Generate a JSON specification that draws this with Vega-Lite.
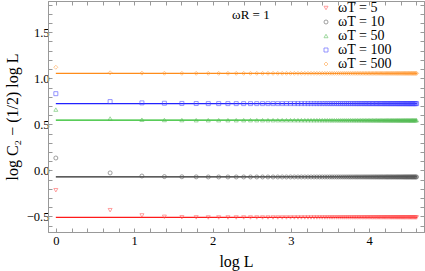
{
  "$schema": "https://vega.github.io/schema/vega-lite/v6.json",
  "autosize": "none",
  "width": 376,
  "height": 231,
  "padding": {"left": 48, "top": 1, "right": 1, "bottom": 39},
  "background": "white",
  "config": {
    "view": {"stroke": "#999999", "strokeWidth": 1},
    "font": "Liberation Serif",
    "axis": {
      "labelFont": "Liberation Serif",
      "titleFont": "Liberation Serif",
      "labelFontSize": 12.5,
      "titleFontSize": 16,
      "titleFontWeight": "normal",
      "labelColor": "#000000",
      "titleColor": "#000000",
      "domainColor": "#999999",
      "tickColor": "#999999",
      "grid": false
    },
    "legend": {
      "orient": "none", "legendX": 271, "legendY": 0,
      "labelFont": "Liberation Serif", "labelFontSize": 14, "labelFontWeight": "normal", "labelColor": "#000000",
      "rowPadding": -3.5, "symbolSize": 16, "symbolStrokeWidth": 0.8, "labelOffset": 5
    }
  },
  "resolve": {"axis": {"x": "independent", "y": "independent"}},
  "datasets": {
    "pts": [
      {"x": 0, "w5": -0.216, "w10": 0.134, "w50": 0.66, "w100": 0.833, "w500": 1.12},
      {"x": 0.693, "w5": -0.433, "w10": -0.028, "w50": 0.563, "w100": 0.747, "w500": 1.06},
      {"x": 1.099, "w5": -0.49, "w10": -0.062, "w50": 0.55, "w100": 0.733, "w500": 1.056},
      {"x": 1.386, "w5": -0.505, "w10": -0.068, "w50": 0.547, "w100": 0.729, "w500": 1.055},
      {"x": 1.609, "w5": -0.51, "w10": -0.07, "w50": 0.546, "w100": 0.727, "w500": 1.054},
      {"x": 1.792, "w5": -0.511, "w10": -0.071, "w50": 0.545, "w100": 0.726, "w500": 1.054},
      {"x": 1.946, "w5": -0.512, "w10": -0.072, "w50": 0.545, "w100": 0.725, "w500": 1.054},
      {"x": 2.079, "w5": -0.512, "w10": -0.072, "w50": 0.545, "w100": 0.725, "w500": 1.054},
      {"x": 2.197, "w5": -0.512, "w10": -0.072, "w50": 0.545, "w100": 0.725, "w500": 1.054},
      {"x": 2.303, "w5": -0.512, "w10": -0.072, "w50": 0.545, "w100": 0.725, "w500": 1.054},
      {"x": 2.398, "w5": -0.512, "w10": -0.072, "w50": 0.545, "w100": 0.725, "w500": 1.054},
      {"x": 2.485, "w5": -0.512, "w10": -0.072, "w50": 0.545, "w100": 0.725, "w500": 1.054},
      {"x": 2.565, "w5": -0.512, "w10": -0.072, "w50": 0.545, "w100": 0.725, "w500": 1.054},
      {"x": 2.639, "w5": -0.512, "w10": -0.072, "w50": 0.545, "w100": 0.725, "w500": 1.054},
      {"x": 2.708, "w5": -0.512, "w10": -0.072, "w50": 0.545, "w100": 0.725, "w500": 1.054},
      {"x": 2.773, "w5": -0.512, "w10": -0.072, "w50": 0.545, "w100": 0.725, "w500": 1.054},
      {"x": 2.833, "w5": -0.512, "w10": -0.072, "w50": 0.545, "w100": 0.725, "w500": 1.054},
      {"x": 2.890, "w5": -0.512, "w10": -0.072, "w50": 0.545, "w100": 0.725, "w500": 1.054},
      {"x": 2.944, "w5": -0.512, "w10": -0.072, "w50": 0.545, "w100": 0.725, "w500": 1.054},
      {"x": 2.996, "w5": -0.512, "w10": -0.072, "w50": 0.545, "w100": 0.725, "w500": 1.054},
      {"x": 3.045, "w5": -0.512, "w10": -0.072, "w50": 0.545, "w100": 0.725, "w500": 1.054},
      {"x": 3.091, "w5": -0.512, "w10": -0.072, "w50": 0.545, "w100": 0.725, "w500": 1.054},
      {"x": 3.135, "w5": -0.512, "w10": -0.072, "w50": 0.545, "w100": 0.725, "w500": 1.054},
      {"x": 3.178, "w5": -0.512, "w10": -0.072, "w50": 0.545, "w100": 0.725, "w500": 1.054},
      {"x": 3.219, "w5": -0.512, "w10": -0.072, "w50": 0.545, "w100": 0.725, "w500": 1.054},
      {"x": 3.258, "w5": -0.512, "w10": -0.072, "w50": 0.545, "w100": 0.725, "w500": 1.054},
      {"x": 3.296, "w5": -0.512, "w10": -0.072, "w50": 0.545, "w100": 0.725, "w500": 1.054},
      {"x": 3.332, "w5": -0.512, "w10": -0.072, "w50": 0.545, "w100": 0.725, "w500": 1.054},
      {"x": 3.367, "w5": -0.512, "w10": -0.072, "w50": 0.545, "w100": 0.725, "w500": 1.054},
      {"x": 3.401, "w5": -0.512, "w10": -0.072, "w50": 0.545, "w100": 0.725, "w500": 1.054},
      {"x": 3.434, "w5": -0.512, "w10": -0.072, "w50": 0.545, "w100": 0.725, "w500": 1.054},
      {"x": 3.466, "w5": -0.512, "w10": -0.072, "w50": 0.545, "w100": 0.725, "w500": 1.054},
      {"x": 3.497, "w5": -0.512, "w10": -0.072, "w50": 0.545, "w100": 0.725, "w500": 1.054},
      {"x": 3.526, "w5": -0.512, "w10": -0.072, "w50": 0.545, "w100": 0.725, "w500": 1.054},
      {"x": 3.555, "w5": -0.512, "w10": -0.072, "w50": 0.545, "w100": 0.725, "w500": 1.054},
      {"x": 3.584, "w5": -0.512, "w10": -0.072, "w50": 0.545, "w100": 0.725, "w500": 1.054},
      {"x": 3.611, "w5": -0.512, "w10": -0.072, "w50": 0.545, "w100": 0.725, "w500": 1.054},
      {"x": 3.638, "w5": -0.512, "w10": -0.072, "w50": 0.545, "w100": 0.725, "w500": 1.054},
      {"x": 3.664, "w5": -0.512, "w10": -0.072, "w50": 0.545, "w100": 0.725, "w500": 1.054},
      {"x": 3.689, "w5": -0.512, "w10": -0.072, "w50": 0.545, "w100": 0.725, "w500": 1.054},
      {"x": 3.714, "w5": -0.512, "w10": -0.072, "w50": 0.545, "w100": 0.725, "w500": 1.054},
      {"x": 3.738, "w5": -0.512, "w10": -0.072, "w50": 0.545, "w100": 0.725, "w500": 1.054},
      {"x": 3.761, "w5": -0.512, "w10": -0.072, "w50": 0.545, "w100": 0.725, "w500": 1.054},
      {"x": 3.784, "w5": -0.512, "w10": -0.072, "w50": 0.545, "w100": 0.725, "w500": 1.054},
      {"x": 3.807, "w5": -0.512, "w10": -0.072, "w50": 0.545, "w100": 0.725, "w500": 1.054},
      {"x": 3.829, "w5": -0.512, "w10": -0.072, "w50": 0.545, "w100": 0.725, "w500": 1.054},
      {"x": 3.850, "w5": -0.512, "w10": -0.072, "w50": 0.545, "w100": 0.725, "w500": 1.054},
      {"x": 3.871, "w5": -0.512, "w10": -0.072, "w50": 0.545, "w100": 0.725, "w500": 1.054},
      {"x": 3.892, "w5": -0.512, "w10": -0.072, "w50": 0.545, "w100": 0.725, "w500": 1.054},
      {"x": 3.912, "w5": -0.512, "w10": -0.072, "w50": 0.545, "w100": 0.725, "w500": 1.054},
      {"x": 3.932, "w5": -0.512, "w10": -0.072, "w50": 0.545, "w100": 0.725, "w500": 1.054},
      {"x": 3.951, "w5": -0.512, "w10": -0.072, "w50": 0.545, "w100": 0.725, "w500": 1.054},
      {"x": 3.970, "w5": -0.512, "w10": -0.072, "w50": 0.545, "w100": 0.725, "w500": 1.054},
      {"x": 3.989, "w5": -0.512, "w10": -0.072, "w50": 0.545, "w100": 0.725, "w500": 1.054},
      {"x": 4.007, "w5": -0.512, "w10": -0.072, "w50": 0.545, "w100": 0.725, "w500": 1.054},
      {"x": 4.025, "w5": -0.512, "w10": -0.072, "w50": 0.545, "w100": 0.725, "w500": 1.054},
      {"x": 4.043, "w5": -0.512, "w10": -0.072, "w50": 0.545, "w100": 0.725, "w500": 1.054},
      {"x": 4.060, "w5": -0.512, "w10": -0.072, "w50": 0.545, "w100": 0.725, "w500": 1.054},
      {"x": 4.078, "w5": -0.512, "w10": -0.072, "w50": 0.545, "w100": 0.725, "w500": 1.054},
      {"x": 4.094, "w5": -0.512, "w10": -0.072, "w50": 0.545, "w100": 0.725, "w500": 1.054},
      {"x": 4.111, "w5": -0.512, "w10": -0.072, "w50": 0.545, "w100": 0.725, "w500": 1.054},
      {"x": 4.127, "w5": -0.512, "w10": -0.072, "w50": 0.545, "w100": 0.725, "w500": 1.054},
      {"x": 4.143, "w5": -0.512, "w10": -0.072, "w50": 0.545, "w100": 0.725, "w500": 1.054},
      {"x": 4.159, "w5": -0.512, "w10": -0.072, "w50": 0.545, "w100": 0.725, "w500": 1.054},
      {"x": 4.174, "w5": -0.512, "w10": -0.072, "w50": 0.545, "w100": 0.725, "w500": 1.054},
      {"x": 4.190, "w5": -0.512, "w10": -0.072, "w50": 0.545, "w100": 0.725, "w500": 1.054},
      {"x": 4.205, "w5": -0.512, "w10": -0.072, "w50": 0.545, "w100": 0.725, "w500": 1.054},
      {"x": 4.220, "w5": -0.512, "w10": -0.072, "w50": 0.545, "w100": 0.725, "w500": 1.054},
      {"x": 4.234, "w5": -0.512, "w10": -0.072, "w50": 0.545, "w100": 0.725, "w500": 1.054},
      {"x": 4.248, "w5": -0.512, "w10": -0.072, "w50": 0.545, "w100": 0.725, "w500": 1.054},
      {"x": 4.263, "w5": -0.512, "w10": -0.072, "w50": 0.545, "w100": 0.725, "w500": 1.054},
      {"x": 4.277, "w5": -0.512, "w10": -0.072, "w50": 0.545, "w100": 0.725, "w500": 1.054},
      {"x": 4.290, "w5": -0.512, "w10": -0.072, "w50": 0.545, "w100": 0.725, "w500": 1.054},
      {"x": 4.304, "w5": -0.512, "w10": -0.072, "w50": 0.545, "w100": 0.725, "w500": 1.054},
      {"x": 4.317, "w5": -0.512, "w10": -0.072, "w50": 0.545, "w100": 0.725, "w500": 1.054},
      {"x": 4.331, "w5": -0.512, "w10": -0.072, "w50": 0.545, "w100": 0.725, "w500": 1.054},
      {"x": 4.344, "w5": -0.512, "w10": -0.072, "w50": 0.545, "w100": 0.725, "w500": 1.054},
      {"x": 4.357, "w5": -0.512, "w10": -0.072, "w50": 0.545, "w100": 0.725, "w500": 1.054},
      {"x": 4.369, "w5": -0.512, "w10": -0.072, "w50": 0.545, "w100": 0.725, "w500": 1.054},
      {"x": 4.382, "w5": -0.512, "w10": -0.072, "w50": 0.545, "w100": 0.725, "w500": 1.054},
      {"x": 4.394, "w5": -0.512, "w10": -0.072, "w50": 0.545, "w100": 0.725, "w500": 1.054},
      {"x": 4.407, "w5": -0.512, "w10": -0.072, "w50": 0.545, "w100": 0.725, "w500": 1.054},
      {"x": 4.419, "w5": -0.512, "w10": -0.072, "w50": 0.545, "w100": 0.725, "w500": 1.054},
      {"x": 4.431, "w5": -0.512, "w10": -0.072, "w50": 0.545, "w100": 0.725, "w500": 1.054},
      {"x": 4.443, "w5": -0.512, "w10": -0.072, "w50": 0.545, "w100": 0.725, "w500": 1.054},
      {"x": 4.454, "w5": -0.512, "w10": -0.072, "w50": 0.545, "w100": 0.725, "w500": 1.054},
      {"x": 4.466, "w5": -0.512, "w10": -0.072, "w50": 0.545, "w100": 0.725, "w500": 1.054},
      {"x": 4.477, "w5": -0.512, "w10": -0.072, "w50": 0.545, "w100": 0.725, "w500": 1.054},
      {"x": 4.489, "w5": -0.512, "w10": -0.072, "w50": 0.545, "w100": 0.725, "w500": 1.054},
      {"x": 4.500, "w5": -0.512, "w10": -0.072, "w50": 0.545, "w100": 0.725, "w500": 1.054},
      {"x": 4.511, "w5": -0.512, "w10": -0.072, "w50": 0.545, "w100": 0.725, "w500": 1.054},
      {"x": 4.522, "w5": -0.512, "w10": -0.072, "w50": 0.545, "w100": 0.725, "w500": 1.054},
      {"x": 4.533, "w5": -0.512, "w10": -0.072, "w50": 0.545, "w100": 0.725, "w500": 1.054},
      {"x": 4.543, "w5": -0.512, "w10": -0.072, "w50": 0.545, "w100": 0.725, "w500": 1.054},
      {"x": 4.554, "w5": -0.512, "w10": -0.072, "w50": 0.545, "w100": 0.725, "w500": 1.054},
      {"x": 4.564, "w5": -0.512, "w10": -0.072, "w50": 0.545, "w100": 0.725, "w500": 1.054},
      {"x": 4.575, "w5": -0.512, "w10": -0.072, "w50": 0.545, "w100": 0.725, "w500": 1.054},
      {"x": 4.585, "w5": -0.512, "w10": -0.072, "w50": 0.545, "w100": 0.725, "w500": 1.054},
      {"x": 4.595, "w5": -0.512, "w10": -0.072, "w50": 0.545, "w100": 0.725, "w500": 1.054},
      {"x": 4.605, "w5": -0.512, "w10": -0.072, "w50": 0.545, "w100": 0.725, "w500": 1.054}
    ],
    "fits": [
      {"s": "w5", "y": -0.512},
      {"s": "w10", "y": -0.072},
      {"s": "w50", "y": 0.545},
      {"s": "w100", "y": 0.725},
      {"s": "w500", "y": 1.054}
    ],
    "notes": [
      {"x": 2.25, "y": 1.685, "label": "ωR = 1"}
    ]
  },
  "layer": [
    {
      "data": {"name": "fits"},
      "mark": {"type": "rule", "strokeWidth": 1.3},
      "encoding": {
        "x": {"datum": 0, "type": "quantitative",
          "scale": {"domain": [-0.1, 4.7], "nice": false, "zero": false},
          "axis": {
            "title": "log L",
            "values": [0, 0.2, 0.4, 0.6, 0.8, 1, 1.2, 1.4, 1.6, 1.8, 2, 2.2, 2.4, 2.6, 2.8, 3, 3.2, 3.4, 3.6, 3.8, 4, 4.2, 4.4, 4.6],
            "labelExpr": "abs(datum.value - round(datum.value)) < 0.001 ? format(datum.value, 'd') : ''",
            "tickSize": -4,
            "labelPadding": 6, "titlePadding": 7
          }
        },
        "x2": {"datum": 4.61},
        "y": {"field": "y", "type": "quantitative",
          "scale": {"domain": [-0.67, 1.84], "nice": false, "zero": false},
          "axis": {
            "title": "log C₂ − (1/2) log L",
            "values": [-0.6, -0.5, -0.4, -0.3, -0.2, -0.1, 0, 0.1, 0.2, 0.3, 0.4, 0.5, 0.6, 0.7, 0.8, 0.9, 1, 1.1, 1.2, 1.3, 1.4, 1.5, 1.6, 1.7, 1.8],
            "labelExpr": "abs(datum.value * 2 - round(datum.value * 2)) < 0.001 ? format(datum.value, '.1f') : ''",
            "tickSize": -4,
            "labelPadding": 3, "titlePadding": 6
          }
        },
        "color": {
          "condition": [
            {"test": "datum.s === 'w5'", "value": "#ff1a1a"},
            {"test": "datum.s === 'w10'", "value": "#262626"},
            {"test": "datum.s === 'w50'", "value": "#22bb22"},
            {"test": "datum.s === 'w100'", "value": "#2222ff"}
          ],
          "value": "#ff8c1a"
        }
      }
    },
    {
      "data": {"name": "pts"},
      "transform": [{"fold": ["w5", "w10", "w50", "w100", "w500"], "as": ["s", "y"]}],
      "mark": {"type": "point", "filled": false, "size": 16, "strokeWidth": 0.8, "opacity": 0.7},
      "encoding": {
        "x": {"field": "x", "type": "quantitative", "axis": null},
        "y": {"field": "y", "type": "quantitative", "axis": null},
        "color": {"field": "s", "type": "nominal",
          "scale": {"domain": ["w5", "w10", "w50", "w100", "w500"], "range": ["#ff5555", "#555555", "#55bb55", "#4444ff", "#ffa040"]},
          "legend": {"title": null, "labelFont": "Liberation Serif", "labelExpr": "'ωT = ' + slice(datum.label, 1)"}
        },
        "shape": {"field": "s", "type": "nominal",
          "scale": {"domain": ["w5", "w10", "w50", "w100", "w500"], "range": ["triangle-down", "circle", "triangle-up", "square", "diamond"]},
          "legend": {"title": null, "labelFont": "Liberation Serif", "labelExpr": "'ωT = ' + slice(datum.label, 1)"}}
      }
    },
    {
      "data": {"name": "notes"},
      "mark": {"type": "text", "align": "left", "baseline": "middle", "font": "Liberation Serif", "fontSize": 13, "color": "#000000"},
      "encoding": {
        "x": {"field": "x", "type": "quantitative", "axis": null},
        "y": {"field": "y", "type": "quantitative", "axis": null},
        "text": {"field": "label"}
      }
    },
    {
      "data": {"name": "fits"},
      "mark": {"type": "rule", "opacity": 0},
      "encoding": {
        "x": {"datum": 0, "type": "quantitative",
          "axis": {"orient": "top", "title": null, "labels": false,
            "values": [0, 0.2, 0.4, 0.6, 0.8, 1, 1.2, 1.4, 1.6, 1.8, 2, 2.2, 2.4, 2.6, 2.8, 3, 3.2, 3.4, 3.6, 3.8, 4, 4.2, 4.4, 4.6],
            "tickSize": -4}},
        "y": {"field": "y", "type": "quantitative",
          "axis": {"orient": "right", "title": null, "labels": false,
            "values": [-0.6, -0.5, -0.4, -0.3, -0.2, -0.1, 0, 0.1, 0.2, 0.3, 0.4, 0.5, 0.6, 0.7, 0.8, 0.9, 1, 1.1, 1.2, 1.3, 1.4, 1.5, 1.6, 1.7, 1.8],
            "tickSize": -4}}
      }
    }
  ]
}
